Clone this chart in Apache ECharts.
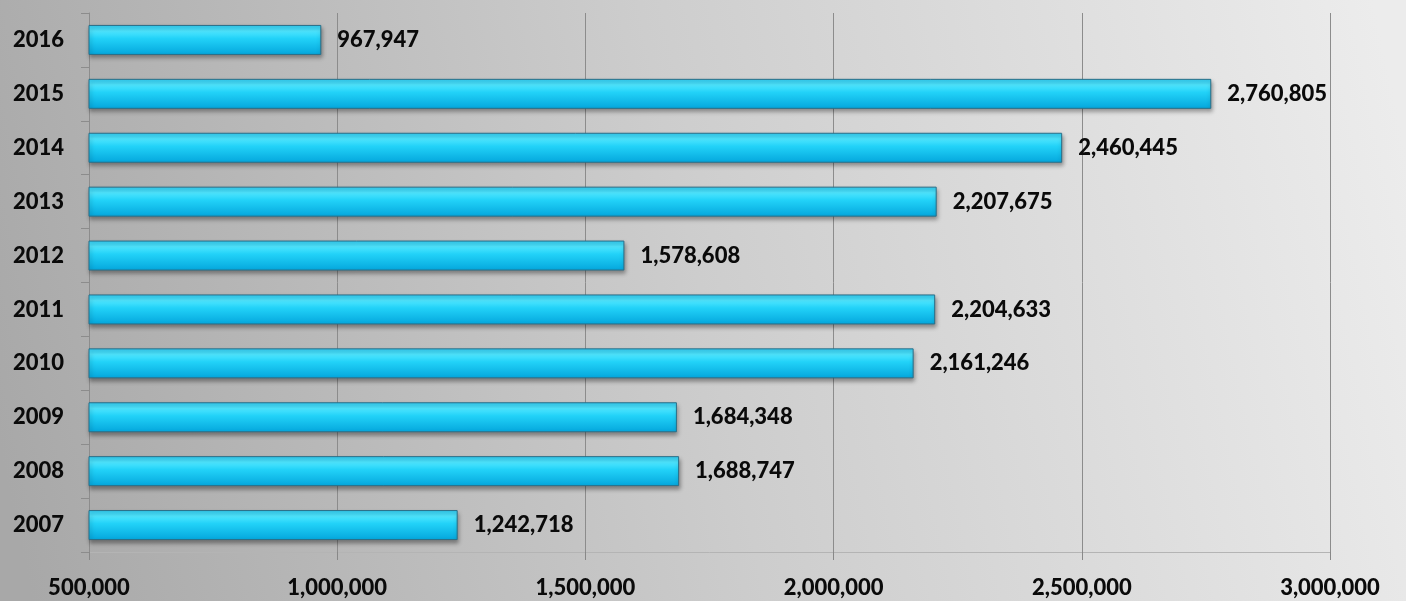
<!DOCTYPE html>
<html>
<head>
<meta charset="utf-8">
<script src="https://cdn.jsdelivr.net/npm/echarts@6/dist/echarts.min.js"></script>
<style>
html,body{margin:0;padding:0;}
#c{width:1406px;height:601px;}
</style>
</head>
<body>
<div id="c"></div>
<script>
var years = ['2007','2008','2009','2010','2011','2012','2013','2014','2015','2016'];
var values = [1242718,1688747,1684348,2161246,2204633,1578608,2207675,2460445,2760805,967947];
var axisMin = 500000, axisMax = 3000000, axisStep = 500000;

function fmt(v){ return String(v).replace(/\B(?=(\d{3})+(?!\d))/g, ','); }

var chart = echarts.init(document.getElementById('c'));
var font = 'Lato, "Open Sans", sans-serif';
chart.setOption({
  backgroundColor: new echarts.graphic.LinearGradient(0, 0.75, 1, 0.25, [
    {offset:0, color:'#a8a8a8'},
    {offset:0.5, color:'#cdcdcd'},
    {offset:1, color:'#ececec'}
  ]),
  grid: {left: 89, right: 76, top: 13, bottom: 49},
  xAxis: {
    type: 'value', min: axisMin, max: axisMax, interval: axisStep,
    axisLine: {show: true, lineStyle: {color: '#b4b4b4'}},
    axisTick: {show: true, length: 8, lineStyle: {color: '#888'}},
    splitLine: {show: true, lineStyle: {color: '#8c8c8c', width: 1}},
    axisLabel: {formatter: fmt, color: '#0a0a0a', fontWeight: 900, fontSize: 22, fontFamily: font, margin: 25}
  },
  yAxis: {
    type: 'category', data: years,
    axisLine: {show: true, lineStyle: {color: '#8c8c8c'}},
    axisTick: {show: true, length: 8, lineStyle: {color: '#8c8c8c'}},
    axisLabel: {color: '#0a0a0a', fontWeight: 900, fontSize: 22, fontFamily: font, margin: 25}
  },
  series: [{
    type: 'bar', data: values, barWidth: 30,
    itemStyle: {
      color: new echarts.graphic.LinearGradient(0,0,0,1,[
        {offset:0, color:'#2fc8ee'},
        {offset:0.2, color:'#4fe6ff'},
        {offset:0.45, color:'#22d2f8'},
        {offset:1, color:'#04a6dc'}
      ]),
      borderColor: '#2a6f88', borderWidth: 1,
      shadowColor: 'rgba(0,0,0,0.35)', shadowBlur: 4, shadowOffsetY: 3, shadowOffsetX: 1
    },
    label: {show: true, position: 'right', distance: 16, formatter: function(p){return fmt(p.value);},
      color: '#0a0a0a', fontWeight: 900, fontSize: 22, fontFamily: font}
  }]
});
</script>
</body>
</html>
